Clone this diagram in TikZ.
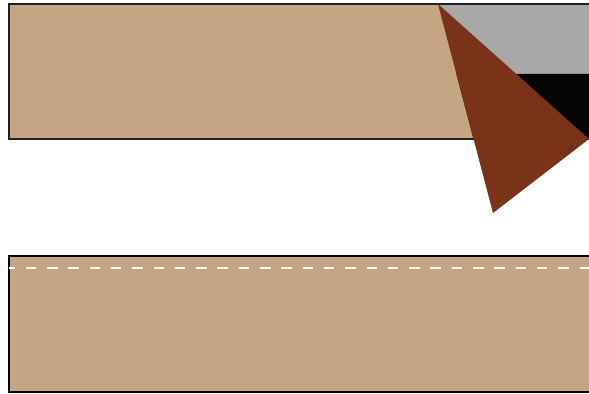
\documentclass[tikz,border=0pt]{standalone}
\usepackage{xcolor}
\usetikzlibrary{calc}

\definecolor{plank}{HTML}{C6A584}
\definecolor{steel}{HTML}{A8A8A8}
\definecolor{inkblack}{HTML}{050505}
\definecolor{wedge}{HTML}{7A3318}
\definecolor{rim}{HTML}{231F20}

\begin{document}
\begin{tikzpicture}[
  x=0.02cm, y=-0.02cm,
  % one base style per kind of shape
  board/.style={fill=plank, line width=0.05cm},
  seam/.style={white, line width=0.045cm, dash pattern=on 0.21cm off 0.216cm,
               dash phase=0.09cm},
]
\useasboundingbox[clip] (0,0) rectangle (589,394);

%% -- Upper board ----------------------------------------------------
\coordinate (tip) at (438,4);
\coordinate (rgt) at (589,139);
\coordinate (bot) at (493,213);
\coordinate (m1) at ($(tip)!{70/209}!(bot)$);
\coordinate (m2) at ($(tip)!{135/209}!(bot)$);

\fill[plank] (9,4) rectangle (610,139);
\fill[steel] (tip) -- (610,4) -- (610,74) -- (m1) -- cycle;
\fill[inkblack] (m1) -- (610,74) -- (610,139) -- (m2) -- cycle;
\draw[rim, line width=0.05cm] (9,4) rectangle (610,139);

%% -- Cutter ---------------------------------------------------------
\fill[wedge] (tip) -- (rgt) -- (bot) -- cycle;

%% -- Lower board ----------------------------------------------------
\draw[board, draw=black] (9,256) rectangle (610,392);
\draw[seam] (9,268) -- (610,268);

\end{tikzpicture}
\end{document}
